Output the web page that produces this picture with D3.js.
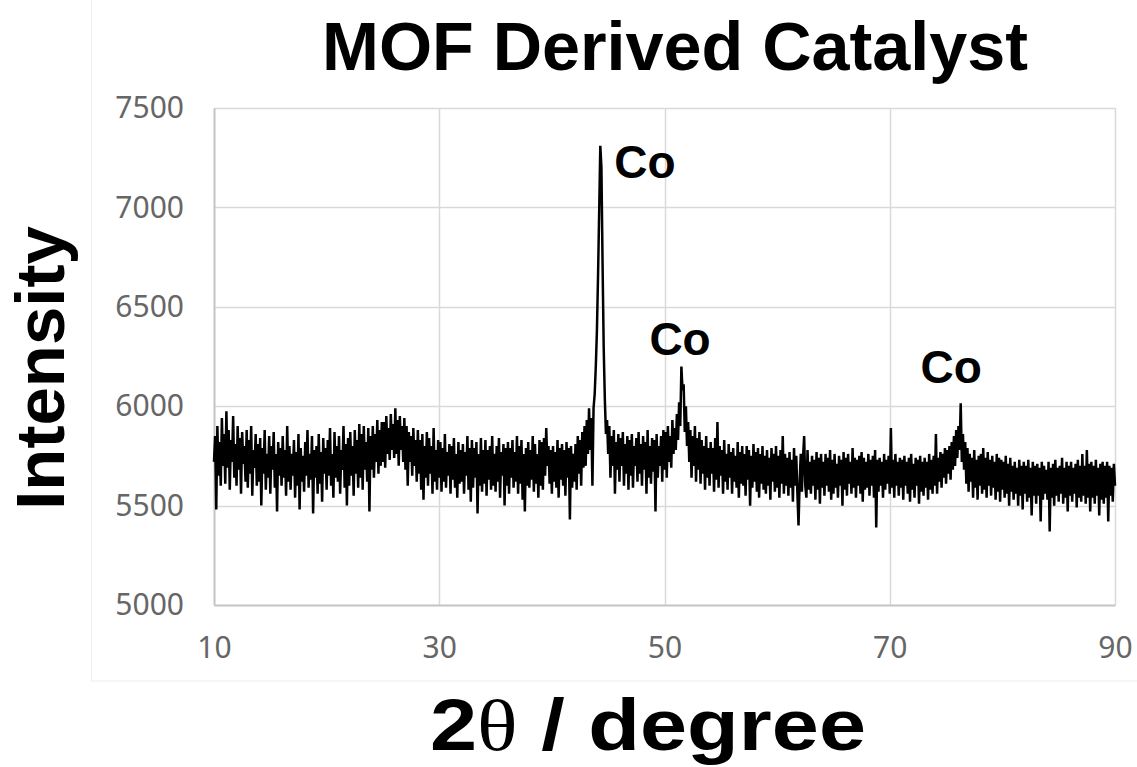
<!DOCTYPE html>
<html>
<head>
<meta charset="utf-8">
<script src="https://cdn.jsdelivr.net/npm/d3@7"></script>
<style>
  html, body { margin: 0; padding: 0; background: #ffffff; }
  svg { display: block; }
</style>
</head>
<body>
<svg id="chart" width="1137" height="767"></svg>
<script>
// ---- data ----
const chartTitle = "MOF Derived Catalyst";
const xLabel = "2θ / degree";
const yLabel = "Intensity";
const xTicks = [10, 30, 50, 70, 90];
const yTicks = [5000, 5500, 6000, 6500, 7000, 7500];
const xDomain = [10, 90];
const yDomain = [5000, 7500];
const scanStart = 10;   // degrees
const scanStep = 0.1;   // degrees
// intensity, one row per degree (10.0 ... 89.9), then 90.0
const intensity = [
5720,5850,5480,5900,5650,5820,5600,5940,5700,5860,
5610,5975,5690,5880,5580,5830,5720,5950,5640,5810,
5600,5900,5680,5840,5560,5870,5710,5800,5620,5880,
5590,5830,5660,5900,5550,5780,5690,5860,5600,5810,
5620,5840,5500,5790,5660,5880,5580,5760,5640,5850,
5560,5800,5680,5870,5590,5760,5470,5820,5650,5790,
5600,5850,5640,5780,5550,5900,5620,5800,5580,5760,
5650,5830,5540,5770,5600,5860,5480,5790,5620,5750,
5570,5820,5650,5880,5590,5760,5630,5850,5460,5780,
5640,5800,5560,5860,5610,5770,5520,5840,5660,5790,
5580,5830,5650,5890,5600,5760,5540,5870,5640,5800,
5620,5850,5560,5780,5680,5900,5590,5810,5500,5840,
5600,5870,5650,5800,5550,5880,5660,5830,5590,5910,
5640,5860,5580,5900,5680,5820,5620,5890,5470,5850,
5680,5900,5640,5860,5720,5930,5660,5880,5700,5920,
5720,5920,5690,5950,5760,5890,5730,5960,5780,5910,
5740,5990,5760,5930,5700,5950,5780,5900,5720,5940,
5680,5900,5600,5870,5720,5850,5650,5890,5700,5830,
5620,5880,5660,5830,5580,5860,5530,5800,5640,5870,
5600,5840,5660,5800,5560,5890,5620,5780,5580,5830,
5640,5820,5570,5790,5620,5860,5590,5770,5650,5810,
5560,5800,5630,5840,5590,5760,5540,5820,5610,5780,
5620,5810,5560,5770,5650,5850,5580,5790,5520,5830,
5590,5790,5640,5820,5460,5760,5600,5840,5570,5780,
5610,5830,5550,5780,5630,5800,5580,5850,5600,5760,
5570,5800,5620,5840,5540,5770,5650,5810,5500,5790,
5600,5820,5560,5790,5640,5830,5590,5770,5620,5850,
5560,5800,5610,5830,5530,5760,5470,5790,5600,5820,
5590,5780,5630,5850,5570,5810,5610,5760,5540,5830,
5600,5820,5580,5840,5650,5890,5700,5800,5610,5780,
5560,5800,5620,5770,5590,5830,5540,5790,5630,5810,
5600,5780,5550,5820,5640,5790,5430,5800,5590,5760,
5620,5810,5580,5850,5660,5830,5600,5870,5690,5900,
5700,5930,5760,5990,5780,5940,5600,5990,6060,6200,
6380,6660,6980,7310,7200,6720,6300,6040,5860,5930,
5760,5900,5640,5850,5700,5880,5560,5820,5680,5860,
5620,5840,5700,5870,5600,5810,5660,5850,5580,5830,
5650,5860,5590,5800,5700,5840,5620,5870,5660,5810,
5600,5850,5680,5820,5560,5880,5640,5800,5610,5840,
5670,5830,5470,5860,5640,5800,5700,5850,5620,5880,
5680,5870,5640,5900,5720,5850,5690,5930,5760,5890,
5780,5960,5830,6020,5900,6200,6080,6110,5870,6000,
5800,5920,5720,5880,5640,5850,5700,5900,5620,5840,
5680,5870,5610,5830,5660,5800,5580,5850,5640,5790,
5600,5820,5660,5790,5570,5840,5630,5920,5590,5800,
5650,5780,5560,5830,5620,5760,5580,5810,5640,5770,
5560,5790,5620,5750,5590,5820,5540,5770,5610,5800,
5600,5760,5550,5800,5630,5780,5500,5750,5590,5810,
5620,5770,5570,5790,5540,5760,5610,5800,5580,5750,
5560,5780,5600,5740,5530,5790,5620,5760,5570,5800,
5590,5750,5540,5780,5610,5850,5560,5760,5600,5740,
5550,5770,5590,5730,5520,5790,5600,5750,5560,5400,
5620,5760,5570,5740,5850,5600,5540,5780,5580,5720,
5560,5750,5600,5730,5530,5770,5580,5740,5510,5760,
5590,5720,5550,5760,5600,5740,5570,5780,5530,5730,
5560,5760,5590,5710,5540,5750,5600,5730,5500,5770,
5580,5740,5550,5760,5610,5720,5560,5790,5590,5740,
5540,5730,5600,5750,5560,5770,5520,5740,5580,5720,
5590,5760,5550,5730,5600,5750,5540,5780,5390,5730,
5570,5740,5600,5720,5540,5760,5580,5730,5610,5750,
5560,5890,5590,5730,5540,5760,5600,5720,5550,5740,
5590,5730,5530,5750,5600,5720,5560,5740,5520,5760,
5580,5710,5540,5740,5600,5730,5510,5750,5570,5720,
5550,5740,5590,5720,5530,5760,5580,5730,5560,5750,
5600,5860,5560,5740,5620,5770,5590,5760,5640,5790,
5610,5780,5660,5800,5630,5820,5680,5850,5700,5880,
5740,5900,5780,6015,5720,5860,5680,5820,5610,5790,
5570,5760,5620,5740,5540,5780,5590,5730,5530,5750,
5600,5760,5560,5790,5580,5740,5540,5770,5600,5730,
5550,5750,5590,5720,5530,5760,5570,5740,5520,5730,
5580,5720,5540,5750,5560,5710,5500,5740,5570,5700,
5530,5720,5560,5690,5500,5730,5550,5700,5480,5720,
5560,5700,5520,5730,5540,5690,5450,5720,5550,5700,
5510,5710,5550,5690,5420,5720,5530,5700,5560,5680,
5530,5720,5370,5690,5540,5710,5500,5730,5550,5690,
5520,5700,5560,5740,5510,5690,5540,5720,5470,5700,
5550,5720,5520,5690,5560,5710,5490,5730,5540,5700,
5520,5760,5550,5700,5510,5780,5540,5710,5470,5720,
5540,5700,5510,5730,5550,5690,5450,5710,5530,5720,
5510,5700,5540,5720,5420,5700,5550,5690,5520,5710,
5600
];
const peakLabels = ["Co", "Co", "Co"];
const peakAngles = [44.3, 51.5, 76.2];
const peakLabelValues = [7150, 6260, 6115];

// ---- layout ----
const svg = d3.select("#chart");
const W = 1137, H = 767;
const margin = { left: 214, right: 22, top: 108, bottom: 162 };

const x = d3.scaleLinear().domain(xDomain).range([margin.left, W - margin.right]);
const y = d3.scaleLinear().domain(yDomain).range([H - margin.bottom, margin.top]);

// faint chart-area border
svg.append("rect")
  .attr("x", 91.5).attr("y", -2).attr("width", W).attr("height", 683)
  .attr("fill", "none").attr("stroke", "#ededed").attr("stroke-width", 1);

// gridlines
const grid = svg.append("g");
grid.selectAll("line.h").data(yTicks.slice(1)).join("line")
  .attr("x1", x(xDomain[0])).attr("x2", x(xDomain[1]))
  .attr("y1", d => Math.round(y(d)) + 0.5).attr("y2", d => Math.round(y(d)) + 0.5)
  .attr("stroke", "#d9d9d9").attr("stroke-width", 1.5);
grid.selectAll("line.v").data(xTicks.slice(1)).join("line")
  .attr("y1", y(yDomain[0])).attr("y2", y(yDomain[1]))
  .attr("x1", d => Math.round(x(d)) + 0.5).attr("x2", d => Math.round(x(d)) + 0.5)
  .attr("stroke", "#d9d9d9").attr("stroke-width", 1.5);

// axes
const xAxis = d3.axisBottom(x).tickValues(xTicks).tickSize(0).tickPadding(32).tickFormat(d3.format("d"));
const yAxis = d3.axisLeft(y).tickValues(yTicks).tickSize(0).tickPadding(30).tickFormat(d3.format("d"));

const gx = svg.append("g").attr("transform", `translate(0,${y(yDomain[0])})`).call(xAxis);
const gy = svg.append("g").attr("transform", `translate(${x(xDomain[0])},0)`).call(yAxis);
[gx, gy].forEach(g => {
  g.select(".domain").attr("stroke", "#c4c4c4").attr("stroke-width", 2);
  g.selectAll("text").attr("fill", "#666666")
    .style("font-family", "'Noto Sans', 'Open Sans', sans-serif").style("font-size", "30px");
});

// series
const pts = intensity.map((v, i) => [scanStart + i * scanStep, v]);
const line = d3.line().x(d => x(d[0])).y(d => y(d[1]));
svg.append("path").datum(pts)
  .attr("d", line)
  .attr("fill", "none").attr("stroke", "#000").attr("stroke-width", 2.5)
  .attr("stroke-linejoin", "miter").attr("stroke-miterlimit", 2);

// peak labels
svg.append("g").selectAll("text").data(peakLabels).join("text")
  .attr("x", (d, i) => x(peakAngles[i]) + [14, -32, -39][i])
  .attr("y", (d, i) => y(peakLabelValues[i]))
  .attr("font-family", "'Liberation Sans', Arial, sans-serif")
  .attr("font-weight", "bold").attr("font-size", 46)
  .attr("fill", "#000")
  .text(d => d);

// title
svg.append("text")
  .attr("x", 675).attr("y", 70)
  .attr("text-anchor", "middle")
  .attr("font-family", "'Liberation Sans', Arial, sans-serif")
  .attr("font-weight", "bold").attr("font-size", 68)
  .attr("textLength", 706).attr("lengthAdjust", "spacingAndGlyphs")
  .attr("fill", "#000")
  .text(chartTitle);

// y label
svg.append("text")
  .attr("transform", "translate(64,368) rotate(-90)")
  .attr("text-anchor", "middle")
  .attr("font-family", "'Liberation Sans', Arial, sans-serif")
  .attr("font-weight", "bold").attr("font-size", 69)
  .attr("fill", "#000")
  .text(yLabel);

// x label
const xl = svg.append("text")
  .attr("x", 648).attr("y", 750)
  .attr("text-anchor", "middle")
  .attr("font-family", "'Liberation Sans', Arial, sans-serif")
  .attr("font-weight", "bold").attr("font-size", 72)
  .attr("textLength", 436).attr("lengthAdjust", "spacingAndGlyphs")
  .attr("fill", "#000");
xl.append("tspan").text(xLabel.slice(0, 1));
xl.append("tspan").attr("font-family", "'Liberation Serif', 'Times New Roman', serif").attr("font-weight", "normal").text(xLabel.slice(1, 2));
xl.append("tspan").text(xLabel.slice(2));
</script>
</body>
</html>
